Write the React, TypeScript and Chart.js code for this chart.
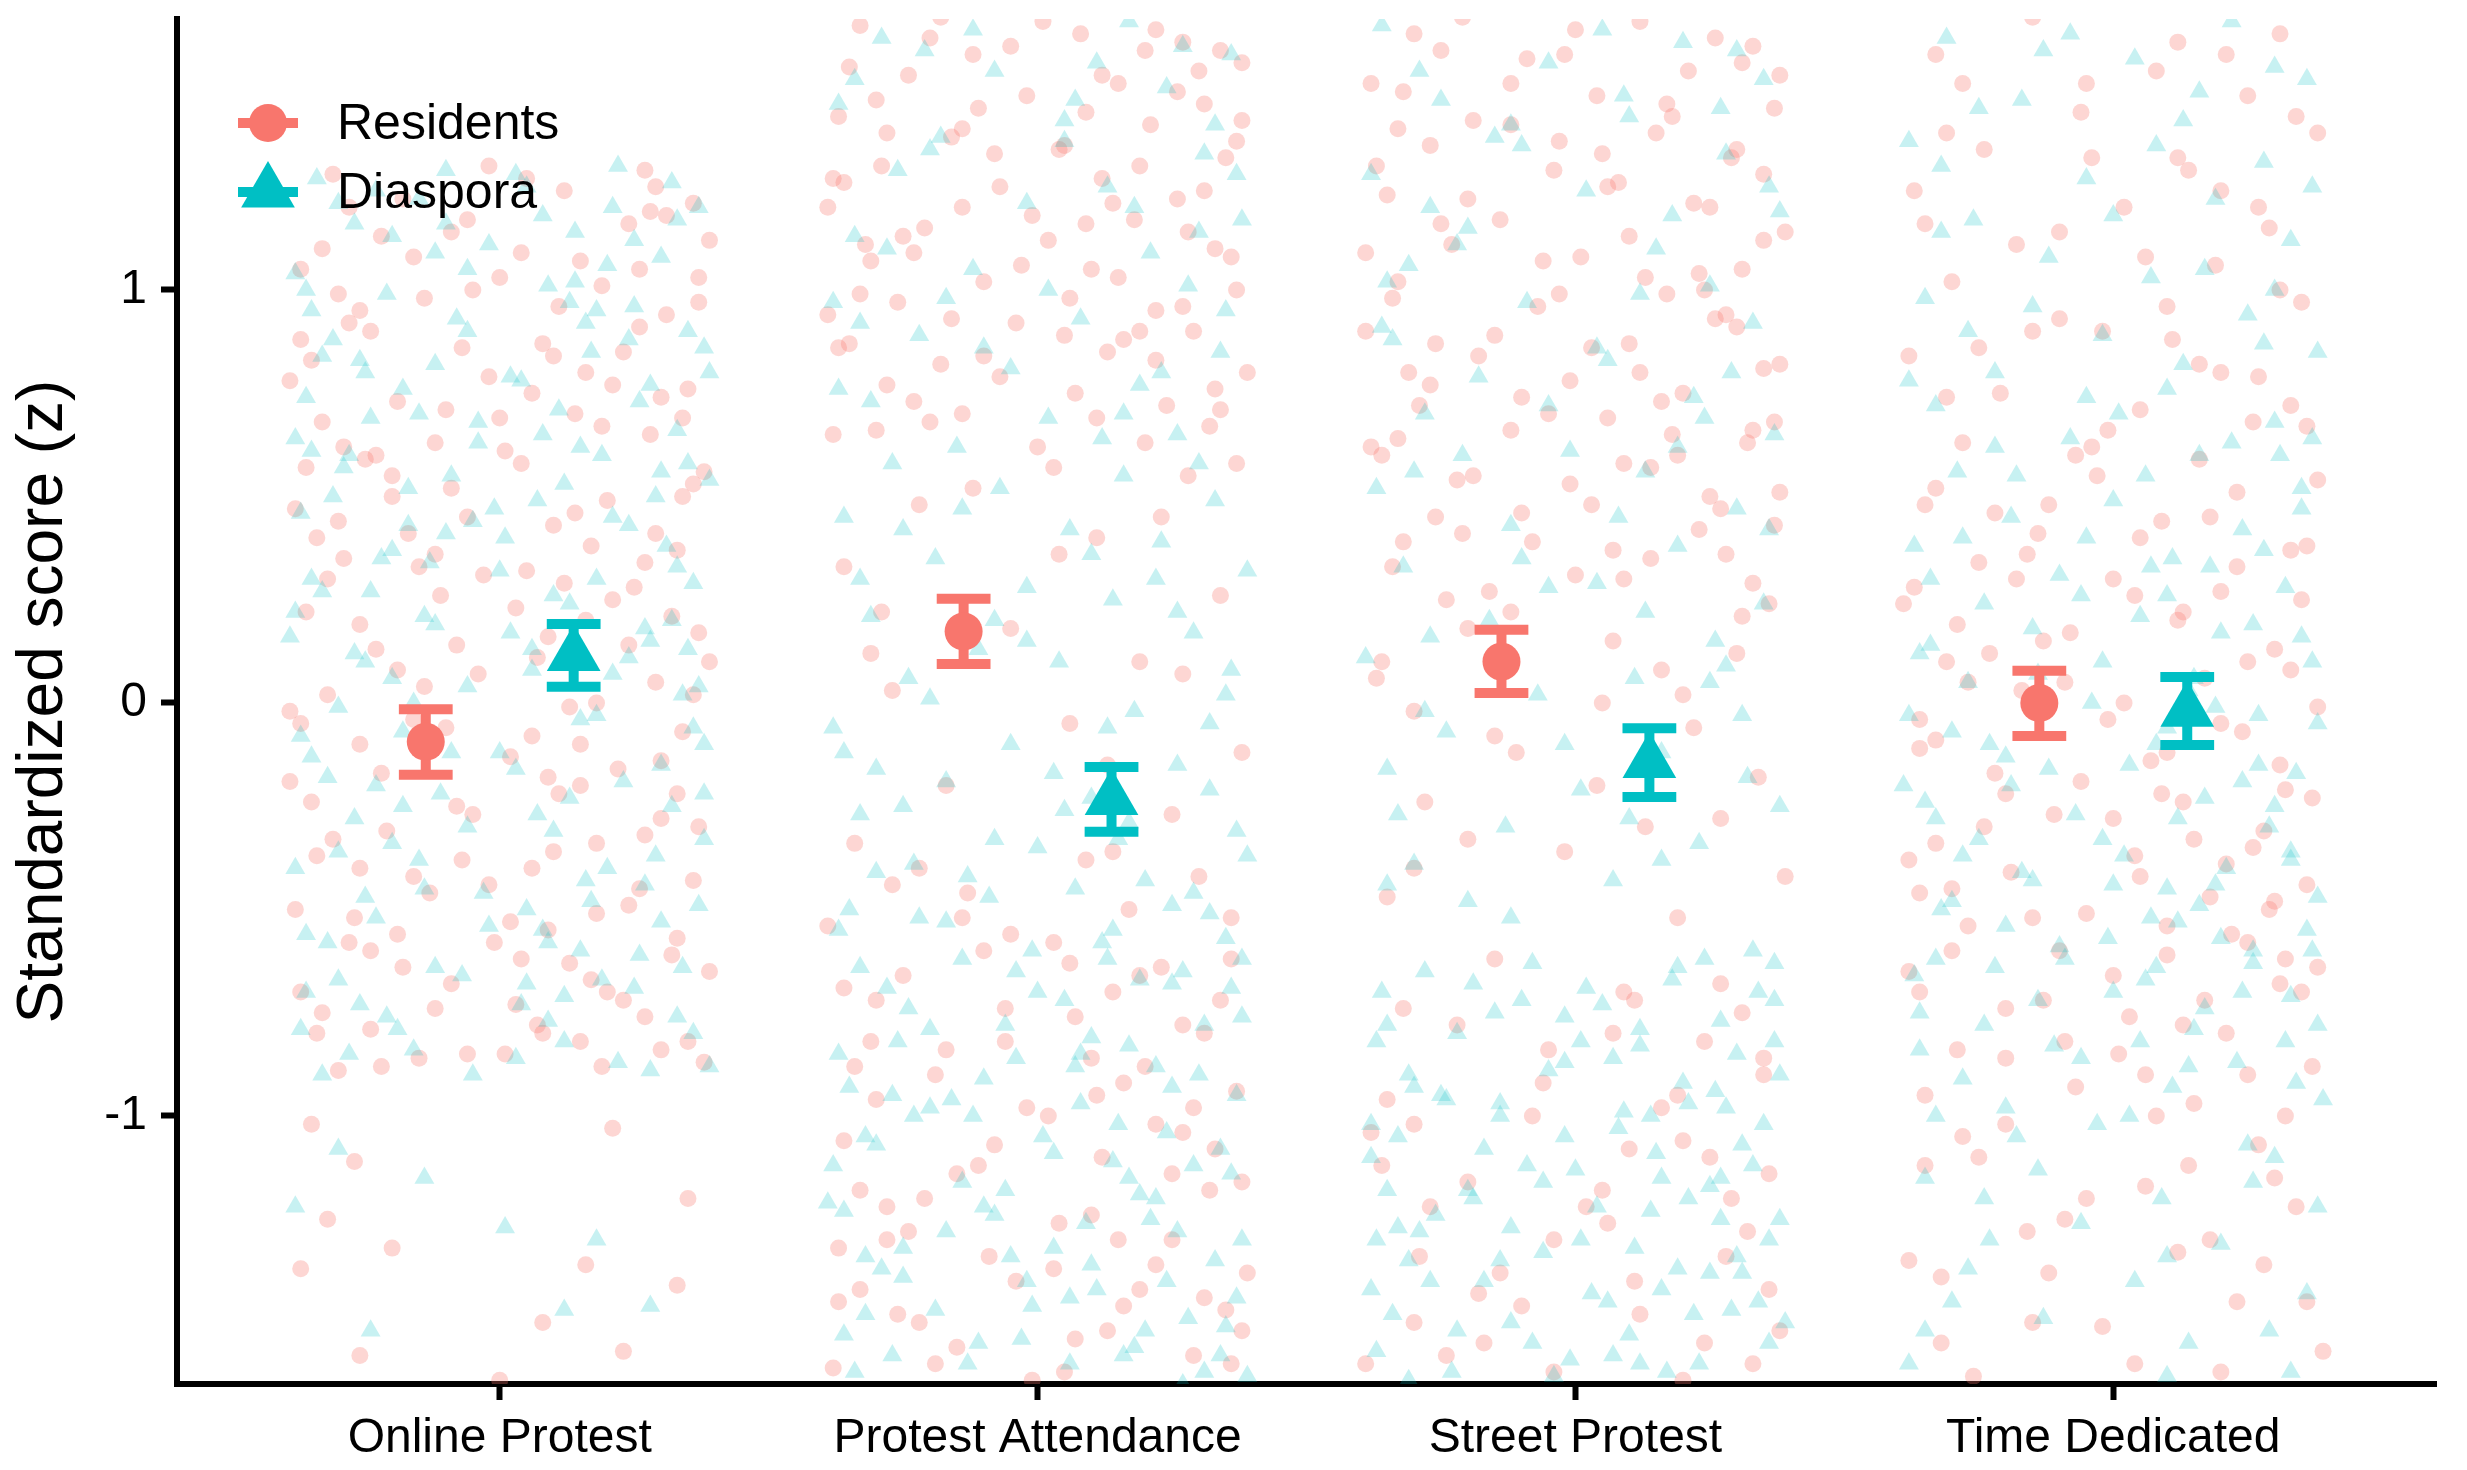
import { useEffect, useRef } from "react"
import { Chart, registerables } from "chart.js"

Chart.register(...registerables)

const categories = ["Online Protest", "Protest Attendance", "Street Protest", "Time Dedicated"]
const groups = ["Residents", "Diaspora"]
const yTicks = [-1, 0, 1]

// group means and 95% intervals, one value per category
const residentsMean = [-0.094, 0.173, 0.1, 0.0]
const residentsLow = [-0.174, 0.094, 0.024, -0.08]
const residentsHigh = [-0.015, 0.252, 0.177, 0.078]
const diasporaMean = [0.115, -0.234, -0.144, -0.02]
const diasporaLow = [0.039, -0.312, -0.228, -0.102]
const diasporaHigh = [0.191, -0.155, -0.061, 0.063]

// jittered raw scores: [horizontal jitter, z]
const onlineResidents = [
  [-0.31, 1.28], [0.12, 1.24], [0.36, 1.21], [-0.06, 1.17], [0.27, 1.29], [-0.22, 1.13], [0.04, 1.09], [0.39, 1.12], [-0.37, 1.05], [0.19, 1.01],
  [-0.14, 0.98], [0.31, 0.94], [-0.28, 0.92], [0.08, 0.87], [0.23, 0.85], [-0.35, 0.83], [-0.02, 0.79], [0.35, 0.76], [-0.19, 0.73], [0.14, 0.7],
  [-0.33, 0.68], [0.28, 0.65], [0.01, 0.61], [-0.25, 0.59], [0.38, 0.56], [-0.09, 0.52], [0.2, 0.49], [-0.38, 0.47], [0.1, 0.43], [-0.17, 0.41],
  [0.33, 0.37], [-0.29, 0.35], [0.05, 0.32], [0.25, 0.28], [-0.11, 0.26], [-0.36, 0.22], [0.16, 0.2], [0.37, 0.17], [-0.23, 0.13], [0.07, 0.11],
  [-0.04, 0.07], [0.29, 0.05], [-0.32, 0.02], [0.13, -0.01], [-0.16, -0.04], [0.34, -0.07], [-0.26, -0.1], [0.02, -0.13], [0.22, -0.16], [-0.39, -0.19],
  [0.11, -0.22], [-0.08, -0.25], [0.3, -0.28], [-0.21, -0.31], [0.18, -0.34], [-0.34, -0.37], [0.06, -0.4], [0.36, -0.43], [-0.13, -0.46], [0.24, -0.49],
  [-0.27, -0.52], [0.09, -0.55], [-0.01, -0.58], [0.32, -0.61], [-0.18, -0.64], [0.17, -0.67], [-0.37, -0.7], [0.03, -0.73], [0.27, -0.76], [-0.24, -0.79],
  [0.15, -0.82], [-0.06, -0.85], [0.38, -0.87], [-0.3, -0.89], [0.0, 1.03], [-0.12, 0.63], [0.26, 0.91], [-0.3, 0.44], [0.12, 0.29], [-0.2, 0.55],
  [0.34, 0.69], [-0.07, -0.38], [0.2, -0.7], [-0.34, -0.8], [0.31, 1.18], [-0.26, 0.95],
  [0.05, 1.27], [-0.18, 1.22], [0.24, 1.16], [-0.33, 1.1], [0.15, 1.07], [-0.05, 1.0], [0.37, 0.97], [-0.24, 0.9], [0.1, 0.84], [-0.39, 0.78],
  [0.3, 0.74], [-0.1, 0.71], [0.19, 0.67], [-0.29, 0.62], [0.04, 0.58], [0.36, 0.53], [-0.2, 0.5], [0.14, 0.46], [-0.34, 0.4], [0.27, 0.34],
  [-0.03, 0.31], [0.21, 0.25], [-0.26, 0.19], [0.09, 0.16], [0.39, 0.1], [-0.14, 0.04], [0.18, 0.0], [-0.37, -0.05], [0.06, -0.08], [0.3, -0.14],
  [-0.22, -0.17], [0.15, -0.2], [-0.05, -0.27], [0.37, -0.3], [-0.31, -0.33], [0.1, -0.36], [-0.16, -0.42], [0.26, -0.45], [-0.38, -0.5], [0.02, -0.53],
  [0.33, -0.57], [-0.24, -0.6], [0.13, -0.63], [-0.09, -0.68], [0.23, -0.72], [-0.33, -0.75], [0.07, -0.78], [0.35, -0.82], [-0.15, -0.86], [0.19, -0.88],
  [-0.28, 1.2], [0.16, 0.8], [-0.36, 0.57], [0.29, 0.41], [-0.08, 0.14], [0.33, -0.22], [-0.19, -0.56], [0.01, -0.85], [0.26, 1.05], [-0.12, 0.36],
  [-0.02, 1.3], [0.28, 1.19], [-0.16, 1.08], [0.11, 0.96], [-0.37, 0.88], [0.21, 0.77], [0.0, 0.69], [-0.23, 0.6], [0.34, 0.5], [-0.06, 0.45],
  [0.17, 0.38], [-0.32, 0.3], [0.03, 0.23], [0.24, 0.14], [-0.19, 0.08], [0.36, 0.02], [-0.1, -0.06], [0.09, -0.18], [-0.35, -0.24], [0.27, -0.32],
  [-0.02, -0.44], [0.18, -0.51], [-0.28, -0.58], [0.39, -0.65], [-0.12, -0.74], [0.08, -0.8], [-0.22, -0.88], [0.29, 1.25], [-0.09, 1.14], [0.37, 1.03],
  [-0.3, 0.99], [0.06, 0.75], [-0.15, 0.33], [0.32, 0.21], [-0.39, -0.02], [0.15, -0.1], [-0.26, -0.4], [0.04, -0.62], [0.3, -0.84], [-0.07, 0.86],
  [-0.35, -1.02], [0.21, -1.03], [-0.27, -1.11], [0.35, -1.2], [-0.32, -1.25], [-0.2, -1.32], [0.16, -1.36], [-0.37, -1.37], [0.33, -1.41],
  [0.08, -1.5], [-0.26, -1.58], [0.23, -1.57], [0.0, -1.64],
]
const onlineDiaspora = [
  [0.22, 1.3], [-0.34, 1.27], [0.05, 1.25], [-0.15, 1.22], [0.37, 1.2], [-0.27, 1.16], [0.14, 1.14], [-0.02, 1.11], [0.3, 1.08], [-0.38, 1.04],
  [0.09, 1.01], [-0.21, 0.99], [0.25, 0.96], [-0.08, 0.93], [0.35, 0.9], [-0.31, 0.88], [0.17, 0.85], [-0.12, 0.82], [0.02, 0.79], [0.28, 0.77],
  [-0.36, 0.74], [0.11, 0.71], [-0.24, 0.69], [0.33, 0.66], [-0.04, 0.63], [0.19, 0.6], [-0.29, 0.57], [0.39, 0.54], [-0.17, 0.52], [0.07, 0.49],
  [-0.37, 0.46], [0.24, 0.43], [-0.1, 0.41], [0.31, 0.38], [-0.22, 0.35], [0.0, 0.32], [0.36, 0.29], [-0.33, 0.27], [0.13, 0.24], [-0.14, 0.21],
  [0.27, 0.18], [-0.39, 0.16], [0.06, 0.13], [-0.25, 0.1], [0.21, 0.07], [-0.06, 0.04], [0.34, 0.02], [-0.3, -0.01], [0.15, -0.04], [-0.18, -0.07],
  [0.38, -0.1], [-0.35, -0.13], [0.03, -0.16], [0.23, -0.19], [-0.11, -0.22], [0.32, -0.25], [-0.27, -0.28], [0.1, -0.31], [-0.2, -0.34], [0.29, -0.37],
  [-0.38, -0.4], [0.16, -0.43], [-0.03, -0.46], [0.37, -0.49], [-0.23, -0.52], [0.08, -0.55], [-0.32, -0.58], [0.26, -0.61], [-0.12, -0.64], [0.19, -0.67],
  [-0.36, -0.7], [0.04, -0.73], [0.33, -0.76], [-0.19, -0.79], [0.12, -0.82], [-0.28, -0.85], [0.39, -0.88], [-0.05, -0.9], [0.18, 0.95], [-0.13, 0.34],
  [0.3, 0.56], [-0.25, 0.8], [0.09, -0.58], [-0.35, 0.61], [0.25, 1.12], [-0.18, -0.25], [0.35, 0.13], [-0.01, 0.47],
  [-0.1, 1.29], [0.32, 1.26], [-0.3, 1.21], [0.08, 1.18], [-0.2, 1.13], [0.2, 1.06], [-0.36, 1.0], [0.13, 0.97], [-0.06, 0.9], [0.38, 0.86],
  [-0.26, 0.83], [0.04, 0.78], [0.26, 0.73], [-0.15, 0.7], [-0.38, 0.64], [0.15, 0.62], [0.35, 0.58], [-0.09, 0.55], [-0.31, 0.5], [0.21, 0.45],
  [0.01, 0.4], [-0.2, 0.37], [0.33, 0.33], [-0.35, 0.3], [0.1, 0.26], [-0.12, 0.19], [0.28, 0.15], [-0.27, 0.12], [0.06, 0.08], [0.37, 0.04],
  [-0.16, 0.0], [0.18, -0.03], [-0.37, -0.08], [0.0, -0.12], [0.3, -0.15], [-0.23, -0.2], [0.13, -0.23], [-0.06, -0.3], [0.38, -0.33], [-0.3, -0.36],
  [0.2, -0.4], [-0.14, -0.45], [0.05, -0.5], [0.3, -0.53], [-0.36, -0.56], [0.15, -0.6], [-0.07, -0.66], [0.25, -0.69], [-0.26, -0.73], [0.09, -0.77],
  [0.36, -0.8], [-0.16, -0.84], [0.22, -0.87], [-0.33, -0.9], [0.14, 1.02], [-0.04, 0.68], [0.32, 0.2], [-0.25, -0.47], [0.05, -0.68], [-0.1, 1.16],
  [0.03, 1.28], [-0.23, 1.24], [0.33, 1.17], [-0.06, 1.05], [0.16, 0.92], [-0.33, 0.84], [0.39, 0.8], [-0.18, 0.76], [0.08, 0.65], [-0.28, 0.6],
  [0.29, 0.5], [-0.05, 0.44], [0.18, 0.3], [-0.38, 0.22], [0.02, 0.17], [0.24, 0.11], [-0.2, 0.06], [0.36, -0.06], [-0.32, -0.18], [0.07, -0.27],
  [-0.15, -0.38], [0.27, -0.44], [-0.02, -0.54], [0.34, -0.64], [-0.3, -0.67], [0.12, -0.71], [-0.21, -0.76], [0.03, -0.86], [0.28, -0.89], [-0.12, 1.09],
  [0.21, 1.2], [-0.35, 0.95], [0.12, 0.53], [-0.24, 0.27], [0.38, -0.22], [-0.09, -0.12], [0.17, -0.48], [-0.37, -0.79], [0.24, 0.88], [-0.17, 0.43],
  [-0.3, -1.08], [-0.14, -1.15], [0.01, -1.27], [-0.38, -1.22], [0.18, -1.3], [0.12, -1.47], [0.28, -1.46], [-0.24, -1.52],
]
const attendResidents = [
  [-0.33, 1.64], [0.08, 1.62], [0.27, 1.6], [-0.12, 1.57], [0.38, 1.55], [-0.24, 1.52], [0.15, 1.5], [-0.02, 1.47], [0.31, 1.45], [-0.37, 1.42],
  [0.21, 1.4], [-0.16, 1.37], [0.05, 1.35], [0.35, 1.32], [-0.29, 1.3], [0.12, 1.27], [-0.07, 1.25], [0.26, 1.22], [-0.39, 1.2], [0.18, 1.17],
  [-0.21, 1.15], [0.02, 1.12], [0.33, 1.1], [-0.31, 1.07], [0.1, 1.05], [-0.1, 1.02], [0.37, 1.0], [-0.26, 0.97], [0.22, 0.95], [-0.04, 0.92],
  [0.29, 0.9], [-0.35, 0.87], [0.13, 0.85], [-0.18, 0.82], [0.39, 0.8], [-0.28, 0.77], [0.07, 0.75], [0.24, 0.72], [-0.14, 0.7], [0.32, 0.67],
  [-0.38, 0.65], [0.0, 0.62], [0.2, 1.58], [-0.08, 1.33], [0.16, 0.88], [-0.32, 1.11],
  [0.01, 1.65], [-0.2, 1.61], [0.34, 1.58], [-0.35, 1.54], [0.12, 1.52], [0.26, 1.48], [-0.11, 1.44], [0.38, 1.41], [-0.28, 1.38], [0.04, 1.34],
  [0.19, 1.3], [-0.38, 1.27], [0.31, 1.24], [-0.14, 1.2], [0.09, 1.16], [-0.25, 1.13], [0.36, 1.08], [-0.03, 1.06], [0.15, 1.03], [-0.33, 0.99],
  [0.27, 0.96], [-0.16, 0.93], [0.05, 0.89], [-0.37, 0.86], [0.22, 0.83], [-0.07, 0.79], [0.33, 0.76], [-0.23, 0.73], [0.11, 0.69], [-0.3, 0.66],
  [0.2, 0.63], [0.37, 0.58],
  [-0.18, 1.66], [0.22, 1.63], [-0.05, 1.59], [0.3, 1.53], [-0.3, 1.46], [0.09, 1.43], [-0.14, 1.39], [0.37, 1.36], [-0.36, 1.26], [0.14, 1.21],
  [-0.01, 1.18], [0.28, 1.14], [-0.23, 1.09], [0.06, 0.98], [-0.39, 0.94], [0.19, 0.9], [-0.1, 0.84], [0.34, 0.71], [-0.2, 0.68], [0.03, 0.57],
  [0.28, 0.55], [-0.22, 0.48], [0.11, 0.4], [-0.36, 0.33], [0.34, 0.26], [-0.05, 0.18], [0.19, 0.1], [-0.27, 0.03], [0.06, -0.05], [0.38, -0.12],
  [-0.17, -0.2], [0.25, -0.27], [-0.12, 0.52], [0.04, 0.36], [-0.31, 0.12], [0.27, 0.07], [0.23, 0.45], [-0.29, 0.22], [0.13, -0.15],
  [-0.34, -0.34], [0.09, -0.38], [0.3, -0.42], [-0.13, -0.46], [0.17, -0.5], [-0.39, -0.54], [0.03, -0.58], [0.36, -0.62], [-0.25, -0.66], [0.14, -0.7],
  [-0.06, -0.74], [0.27, -0.78], [-0.31, -0.82], [0.1, -0.86], [-0.19, -0.9], [0.37, -0.94], [-0.02, -0.98], [0.22, -1.02], [-0.36, -1.06], [0.12, -1.1],
  [-0.15, -1.14], [0.32, -1.18], [-0.28, -1.22], [0.04, -1.26], [0.25, -1.3], [-0.09, -1.34], [0.39, -1.38], [-0.33, -1.42], [0.16, -1.46], [-0.22, -1.5],
  [0.07, -1.54], [0.29, -1.58], [-0.38, -1.61], [-0.01, -1.64], [0.2, -0.88], [-0.24, -1.28], [0.35, -1.47], [-0.1, -0.6], [0.33, -1.08], [-0.3, -0.72],
  [0.14, -0.36], [-0.27, -0.44], [0.36, -0.52], [-0.05, -0.56], [0.23, -0.64], [-0.36, -0.69], [0.07, -0.76], [0.31, -0.8], [-0.17, -0.84], [0.16, -0.92],
  [-0.3, -0.96], [0.02, -1.0], [0.27, -1.04], [-0.11, -1.12], [0.38, -1.16], [-0.21, -1.2], [0.1, -1.24], [-0.37, -1.32], [0.22, -1.36], [-0.04, -1.4],
  [0.31, -1.44], [-0.26, -1.48], [0.13, -1.52], [-0.15, -1.56], [0.36, -1.6], [0.05, -1.62], [-0.33, -1.18], [0.19, -0.66],
  [-0.22, -0.4], [0.06, -0.63], [0.34, -0.72], [-0.34, -0.88], [0.11, -0.95], [-0.08, -1.07], [0.25, -1.14], [-0.28, -1.3], [0.03, -1.37], [0.19, -1.42],
  [-0.19, -1.6], [0.38, -1.52], [-0.06, -0.82], [0.29, -0.98], [-0.37, -1.45], [0.15, -1.3], [-0.14, -0.52],
]
const attendDiaspora = [
  [0.17, 1.65], [-0.29, 1.61], [0.36, 1.57], [-0.08, 1.53], [0.24, 1.49], [-0.37, 1.45], [0.05, 1.41], [-0.18, 1.37], [0.31, 1.33], [-0.26, 1.29],
  [0.13, 1.25], [-0.02, 1.21], [0.38, 1.17], [-0.34, 1.13], [0.21, 1.09], [-0.12, 1.05], [0.28, 1.01], [-0.38, 0.97], [0.08, 0.93], [-0.22, 0.89],
  [0.34, 0.85], [-0.05, 0.81], [0.19, 0.77], [-0.31, 0.73], [0.02, 0.69], [0.26, 0.65], [-0.15, 0.62], [0.11, 1.55], [-0.33, 0.92], [0.37, 1.28],
  [-0.12, 1.63], [0.27, 1.59], [-0.34, 1.51], [0.07, 1.46], [0.33, 1.4], [-0.2, 1.34], [0.18, 1.2], [-0.28, 1.1], [0.02, 1.0], [0.35, 0.95],
  [-0.1, 0.86], [0.23, 0.8], [-0.37, 0.76], [0.12, 0.64], [-0.21, 1.58], [0.05, 1.36], [0.3, 1.14], [-0.17, 0.98], [0.16, 0.7],
  [-0.27, 0.58], [0.16, 0.55], [-0.07, 0.52], [0.33, 0.49], [-0.36, 0.45], [0.06, 0.42], [0.23, 0.39], [-0.19, 0.35], [0.39, 0.32], [-0.02, 0.28],
  [0.14, 0.25], [-0.31, 0.21], [0.29, 0.17], [-0.11, 0.13], [0.04, 0.1], [-0.24, 0.06], [0.35, 0.02], [0.18, -0.02], [-0.38, -0.06], [-0.05, -0.1],
  [0.3, 0.58], [-0.14, 0.47], [0.1, 0.36], [-0.33, 0.3], [0.26, 0.22], [-0.02, 0.15], [0.36, 0.08], [-0.2, 0.01], [0.13, -0.06], [-0.36, -0.12],
  [-0.25, 0.42], [0.22, 0.3], [-0.08, 0.2], [0.32, -0.05], [-0.3, -0.16],
  [0.26, -0.15], [-0.17, -0.19], [0.1, -0.23], [-0.33, -0.27], [0.37, -0.31], [0.0, -0.35], [-0.23, -0.39], [0.2, -0.43], [-0.09, -0.47], [0.32, -0.51],
  [-0.37, -0.55], [0.12, -0.58], [-0.14, -0.62], [0.27, -0.65], [-0.28, -0.69], [0.05, -0.72], [0.38, -0.76], [-0.2, -0.79], [0.17, -0.83], [-0.04, -0.86],
  [0.3, -0.9], [-0.35, -0.93], [0.08, -0.97], [-0.12, -1.0], [0.24, -1.04], [-0.3, -1.07], [0.14, -1.11], [0.36, -1.14], [-0.06, -1.18], [-0.39, -1.21],
  [0.21, -1.25], [-0.17, -1.28], [0.03, -1.32], [0.33, -1.35], [-0.25, -1.39], [0.11, -1.42], [-0.01, -1.46], [0.28, -1.49], [-0.36, -1.53], [0.18, -1.56],
  [-0.13, -1.6], [0.39, -1.63], [-0.22, -0.52], [0.07, -0.88], [-0.32, -1.34], [0.25, -0.68], [-0.08, -1.24], [0.34, -1.58], [-0.27, -0.95], [0.15, -0.33],
  [0.03, -0.17], [0.32, -0.21], [-0.25, -0.25], [0.17, -0.29], [-0.08, -0.33], [0.39, -0.37], [-0.3, -0.41], [0.07, -0.45], [0.25, -0.49], [-0.17, -0.53],
  [0.35, -0.57], [-0.01, -0.6], [-0.33, -0.64], [0.19, -0.67], [0.0, -0.7], [-0.24, -0.74], [0.31, -0.78], [0.1, -0.81], [-0.37, -0.85], [0.22, -0.88],
  [-0.1, -0.91], [0.37, -0.95], [-0.2, -0.98], [0.15, -1.02], [-0.32, -1.05], [0.03, -1.09], [0.29, -1.12], [-0.14, -1.16], [0.19, -1.19], [-0.36, -1.23],
  [0.09, -1.26], [0.38, -1.3], [-0.05, -1.34], [-0.29, -1.37], [0.24, -1.4], [0.06, -1.44], [-0.19, -1.47], [0.35, -1.51], [-0.03, -1.54], [0.16, -1.58],
  [-0.34, -1.62], [0.27, -1.65], [-0.23, -1.0], [0.13, -0.62],
  [0.05, -0.26], [-0.13, -0.42], [0.29, -0.46], [-0.35, -0.5], [0.14, -0.55], [-0.04, -0.65], [0.36, -0.69], [-0.26, -0.82], [0.08, -0.85], [0.25, -0.93],
  [-0.16, -0.96], [0.01, -1.05], [0.34, -1.08], [-0.38, -1.12], [0.17, -1.15], [-0.1, -1.22], [0.26, -1.28], [-0.25, -1.32], [0.1, -1.36], [-0.02, -1.4],
  [0.37, -1.44], [-0.32, -1.48], [0.2, -1.52], [-0.11, -1.55], [0.06, -1.6], [0.31, -1.62], [-0.27, -1.58], [0.38, -0.62], [-0.06, -0.78], [0.22, -1.2],
]
const streetResidents = [
  [0.12, 1.65], [-0.3, 1.62], [0.33, 1.59], [-0.09, 1.56], [0.21, 1.53], [-0.38, 1.5], [0.04, 1.47], [0.37, 1.44], [-0.19, 1.41], [0.15, 1.38],
  [-0.27, 1.35], [0.29, 1.32], [-0.04, 1.29], [0.08, 1.26], [-0.35, 1.23], [0.25, 1.2], [-0.14, 1.17], [0.39, 1.14], [-0.23, 1.11], [0.01, 1.08],
  [0.31, 1.05], [-0.33, 1.02], [0.17, 0.99], [-0.07, 0.96], [0.26, 0.93], [-0.39, 0.9], [0.1, 0.87], [-0.18, 0.84], [0.35, 0.81], [-0.01, 0.78],
  [0.2, 0.75], [-0.29, 0.72], [0.06, 0.69], [-0.12, 0.66], [0.32, 0.63], [-0.36, 0.6], [0.14, 0.57], [-0.22, 0.54], [0.38, 0.51], [0.03, 0.48],
  [-0.26, 0.45], [0.23, 0.42], [-0.08, 0.39], [0.28, 0.36], [-0.34, 0.33], [0.09, 0.3], [-0.16, 0.27], [0.36, 0.24], [-0.03, 1.36], [0.24, 1.0],
  [-0.31, 0.8], [0.18, 0.65],
  [-0.21, 1.66], [0.26, 1.61], [-0.02, 1.57], [0.38, 1.52], [-0.32, 1.48], [0.17, 1.45], [-0.12, 1.4], [0.3, 1.34], [-0.37, 1.3], [0.06, 1.25],
  [0.22, 1.21], [-0.25, 1.16], [0.35, 1.12], [-0.06, 1.07], [0.13, 1.03], [-0.34, 0.98], [0.28, 0.94], [-0.15, 0.89], [0.03, 0.86], [0.38, 0.82],
  [-0.27, 0.77], [0.16, 0.73], [-0.05, 0.7], [0.33, 0.66], [-0.38, 0.62], [0.09, 0.58], [-0.19, 0.55], [0.25, 0.5], [-0.1, 0.46], [0.37, 0.43],
  [-0.32, 0.39], [0.14, 0.35], [0.0, 0.31], [-0.24, 0.25], [0.31, 0.21], [0.07, 0.15],
  [0.0, 1.63], [-0.25, 1.58], [0.31, 1.55], [-0.12, 1.5], [0.18, 1.42], [-0.33, 1.39], [0.05, 1.33], [0.35, 1.28], [-0.2, 1.22], [0.1, 1.13],
  [-0.39, 1.09], [0.23, 1.04], [-0.03, 0.99], [0.3, 0.91], [-0.26, 0.87], [0.12, 0.8], [-0.1, 0.74], [0.37, 0.68], [-0.33, 0.64], [0.19, 0.6],
  [-0.01, 0.53], [0.27, 0.47], [-0.21, 0.41], [0.07, 0.37], [0.33, 0.29], [-0.12, 0.22],
  [-0.2, 0.18], [0.3, 0.12], [-0.37, 0.06], [0.05, 0.0], [0.22, -0.06], [-0.11, -0.12], [0.34, -0.18], [-0.28, -0.24], [0.13, -0.3], [-0.02, -0.36],
  [0.39, -0.42], [-0.35, -0.47], [0.19, -0.52], [-0.36, 0.1], [0.2, 0.02], [-0.15, -0.08], [0.27, -0.28], [-0.3, -0.4], [0.16, 0.08], [-0.3, -0.02],
  [0.04, -0.2], [-0.2, -0.33],
  [-0.15, -0.62], [0.27, -0.68], [-0.32, -0.74], [0.07, -0.8], [0.35, -0.86], [-0.06, -0.92], [0.16, -0.98], [-0.38, -1.04], [0.25, -1.1], [-0.2, -1.16],
  [0.02, -1.22], [0.32, -1.28], [-0.29, -1.34], [0.11, -1.4], [-0.1, -1.46], [0.38, -1.52], [-0.24, -1.58], [0.2, -1.64], [-0.35, -0.96], [0.29, -1.2],
  [-0.04, -1.3], [0.09, -0.7], [-0.17, -1.55], [0.36, -1.42],
  [0.11, -0.72], [-0.22, -0.78], [0.35, -0.9], [-0.08, -1.0], [0.2, -1.06], [-0.36, -1.12], [0.05, -1.18], [0.28, -1.34], [-0.14, -1.38], [0.12, -1.48],
  [-0.3, -1.5], [0.33, -1.6], [-0.04, -1.62], [0.24, -0.82], [-0.27, -1.22], [0.31, -0.75], [-0.05, -0.84], [0.19, -0.95], [-0.3, -1.02], [0.06, -1.26],
  [0.36, -1.14], [-0.18, -1.43], [0.24, -1.55], [-0.39, -1.6], [0.1, -1.08],
]
const streetDiaspora = [
  [-0.36, 1.64], [0.2, 1.6], [-0.05, 1.55], [0.35, 1.51], [-0.25, 1.46], [0.1, 1.42], [-0.15, 1.37], [0.28, 1.33], [-0.38, 1.28], [0.02, 1.24],
  [0.38, 1.19], [-0.2, 1.15], [0.15, 1.1], [-0.31, 1.06], [0.25, 1.01], [-0.09, 0.97], [0.33, 0.92], [-0.34, 0.88], [0.06, 0.83], [-0.18, 0.79],
  [0.22, 0.74], [-0.28, 0.7], [0.37, 0.65], [-0.01, 0.61], [0.13, 0.56], [-0.37, 0.52], [0.3, 0.47], [-0.12, 0.43], [0.09, 1.47], [-0.27, 1.2],
  [0.05, 1.63], [-0.29, 1.53], [0.27, 1.44], [-0.1, 1.35], [0.36, 1.25], [-0.22, 1.11], [0.12, 0.99], [-0.36, 0.91], [0.29, 0.8], [-0.05, 0.72],
  [0.19, 0.62], [-0.3, 0.56], [0.36, 0.42], [0.3, 1.58], [-0.12, 1.4], [0.18, 1.18], [-0.35, 1.02], [0.04, 0.86], [0.24, 0.69], [-0.21, 0.6],
  [0.08, 0.45],
  [0.19, 0.38], [-0.32, 0.33], [0.04, 0.29], [0.35, 0.24], [-0.16, 0.2], [0.26, 0.15], [-0.39, 0.11], [0.11, 0.06], [-0.07, 0.02], [0.31, -0.03],
  [-0.24, -0.07], [0.16, -0.12], [-0.35, -0.16], [0.01, -0.21], [0.38, -0.25], [-0.13, -0.3], [0.23, -0.34], [-0.3, -0.39], [0.07, -0.43], [-0.2, -0.48],
  [-0.1, 0.35], [0.13, 0.22], [-0.27, 0.16], [0.25, 0.05], [-0.02, -0.1], [0.32, -0.18], [-0.33, -0.27], [0.16, -0.38], [-0.12, -0.52],
  [-0.05, 0.28], [0.28, 0.09], [-0.28, -0.02], [0.1, -0.28], [-0.35, -0.44],
  [0.33, -0.6], [-0.08, -0.63], [0.18, -0.67], [-0.36, -0.7], [0.05, -0.73], [0.27, -0.77], [-0.22, -0.8], [0.12, -0.83], [-0.02, -0.87], [0.38, -0.9],
  [-0.3, -0.93], [0.21, -0.97], [-0.14, -1.0], [0.08, -1.03], [0.31, -1.07], [-0.38, -1.1], [0.0, -1.13], [0.25, -1.17], [-0.19, -1.2], [0.14, -1.23],
  [-0.33, -1.27], [0.36, -1.3], [-0.06, -1.33], [0.19, -1.37], [-0.27, -1.4], [0.03, -1.43], [0.29, -1.47], [-0.12, -1.5], [0.1, -1.53], [-0.37, -1.57],
  [0.23, -1.6], [-0.04, -1.63], [0.34, -1.45], [-0.25, -0.95], [0.16, -1.15], [-0.1, -0.72], [0.37, -0.82], [-0.31, -1.35], [0.07, -1.58], [-0.17, -1.08],
  [0.27, -1.25], [-0.35, -0.78],
  [0.24, -0.62], [-0.28, -0.65], [0.02, -0.69], [0.37, -0.72], [-0.15, -0.75], [0.12, -0.79], [-0.37, -0.82], [0.3, -0.85], [-0.05, -0.89], [0.2, -0.92],
  [-0.24, -0.96], [0.09, -0.99], [0.35, -1.02], [-0.33, -1.05], [0.15, -1.09], [-0.09, -1.12], [0.27, -1.15], [-0.2, -1.18], [0.04, -1.22], [0.38, -1.25],
  [-0.29, -1.28], [0.11, -1.32], [-0.14, -1.35], [0.31, -1.38], [-0.38, -1.42], [0.06, -1.45], [0.22, -1.48], [-0.22, -1.52], [0.36, -1.55], [-0.01, -1.59],
  [0.17, -1.62], [-0.31, -1.64], [0.28, -0.98], [-0.12, -1.27], [0.01, -0.82], [-0.35, -1.18],
  [0.19, -0.64], [-0.19, -0.68], [0.34, -0.7], [-0.02, -0.76], [0.07, -0.86], [-0.31, -0.9], [0.26, -0.94], [-0.14, -0.97], [0.14, -1.0], [-0.38, -1.02],
  [0.33, -1.12], [-0.06, -1.16], [0.21, -1.2], [-0.26, -1.24], [0.01, -1.3], [0.3, -1.34], [-0.17, -1.4], [0.16, -1.42], [-0.34, -1.48], [0.39, -1.5],
  [-0.08, -1.55], [0.12, -1.6], [-0.23, -1.62], [0.25, -1.38], [-0.02, -1.05], [0.37, -0.63], [-0.37, -1.3],
]
const timeResidents = [
  [-0.15, 1.66], [0.31, 1.62], [-0.33, 1.57], [0.08, 1.53], [0.25, 1.47], [-0.06, 1.43], [0.38, 1.38], [-0.24, 1.34], [0.14, 1.29], [-0.37, 1.24],
  [0.02, 1.2], [0.29, 1.15], [-0.18, 1.11], [0.19, 1.06], [-0.3, 1.02], [0.35, 0.97], [-0.1, 0.93], [0.11, 0.88], [-0.38, 0.84], [0.27, 0.79],
  [-0.21, 0.75], [0.05, 0.71], [0.36, 0.67], [-0.28, 0.63], [0.16, 0.59], [-0.03, 0.55], [0.23, 0.51], [-0.35, 0.48], [0.09, 0.44], [-0.14, 0.41],
  [0.33, 0.37], [-0.25, 0.34], [0.0, 0.3], [0.2, 0.27], [-0.39, 0.24], [0.12, 0.2], [-0.08, 0.17], [0.3, 0.13], [-0.31, 0.1], [0.17, 0.06],
  [-0.17, 0.03], [0.38, -0.01], [-0.01, -0.04], [0.24, -0.07], [-0.36, -0.11], [0.07, -0.14], [-0.22, -0.17], [0.32, -0.21], [0.13, -0.24], [-0.11, -0.27],
  [0.28, -0.31], [-0.33, -0.34], [0.04, -0.37], [-0.19, -0.41], [0.36, -0.44], [0.18, -0.47], [-0.05, -0.51], [-0.27, -0.54], [0.25, -0.58], [0.1, -0.61],
  [-0.38, -0.65], [0.31, -0.68], [-0.13, -0.72], [0.03, -0.76], [0.21, -0.8], [-0.29, -0.84], [0.37, -0.88], [-0.07, -0.93], [0.15, -0.97], [-0.2, -1.02],
  [0.27, -1.07], [-0.35, -1.12], [0.06, -1.17], [0.34, -1.22], [-0.16, -1.28], [0.12, -1.33], [-0.32, -1.39], [0.23, -1.45], [-0.02, -1.51], [0.39, -1.57],
  [-0.26, -1.63], [0.09, -0.22], [-0.12, 0.48], [0.29, -0.5], [-0.23, 0.12], [0.01, -0.85], [0.35, 0.25], [-0.36, -0.46], [0.2, 0.8], [-0.09, -1.25],
  [0.12, 1.6], [-0.28, 1.5], [0.34, 1.42], [-0.04, 1.32], [0.2, 1.24], [-0.35, 1.16], [0.06, 1.08], [0.31, 1.0], [-0.15, 0.9], [0.16, 0.82],
  [-0.31, 0.74], [0.26, 0.68], [-0.07, 0.6], [0.38, 0.54], [-0.22, 0.46], [0.05, 0.4], [0.23, 0.33], [-0.37, 0.28], [0.13, 0.22], [-0.13, 0.15],
  [0.33, 0.08], [-0.27, 0.05], [0.02, 0.0], [0.2, -0.05], [-0.33, -0.09], [0.1, -0.12], [-0.06, -0.19], [0.37, -0.23], [-0.24, -0.3], [0.15, -0.33],
  [-0.38, -0.38], [0.05, -0.42], [0.3, -0.48], [-0.15, -0.52], [0.22, -0.56], [-0.3, -0.6], [0.0, -0.66], [0.35, -0.7], [-0.2, -0.74], [0.13, -0.78],
  [-0.09, -0.82], [0.25, -0.9], [-0.35, -0.95], [0.08, -1.0], [-0.25, -1.1], [0.3, -1.15], [-0.05, -1.2], [0.18, -1.3], [-0.38, -1.35], [0.36, -1.45],
  [-0.15, -1.5], [0.04, -1.6], [0.26, -0.35], [-0.18, 0.3], [0.32, -0.62], [-0.04, 0.62],
  [0.21, 1.57], [-0.05, 1.5], [-0.31, 1.38], [0.27, 1.2], [-0.1, 1.14], [0.1, 0.96], [-0.25, 0.86], [0.33, 0.72], [-0.01, 0.66], [-0.33, 0.52],
  [0.18, 0.45], [0.36, 0.38], [-0.16, 0.36], [0.04, 0.26], [-0.29, 0.19], [0.25, 0.1], [-0.09, 0.05], [0.15, -0.02], [-0.36, -0.04], [0.31, -0.15],
  [-0.2, -0.22], [0.0, -0.28], [0.21, -0.39], [-0.3, -0.45], [0.1, -0.54], [-0.1, -0.6], [0.38, -0.64], [-0.36, -0.7], [0.17, -0.72], [-0.2, -0.86],
  [0.06, -0.9], [0.32, -1.0], [-0.28, -1.05], [0.14, -1.12], [-0.12, -1.38], [0.28, -1.36], [-0.32, -1.55], [0.2, -1.62], [-0.02, 0.9], [0.12, 1.32],
]
const timeDiaspora = [
  [0.22, 1.65], [-0.31, 1.61], [0.04, 1.56], [0.36, 1.51], [-0.17, 1.46], [0.13, 1.41], [-0.38, 1.36], [0.28, 1.31], [-0.05, 1.27], [0.19, 1.22],
  [-0.26, 1.17], [0.33, 1.12], [-0.12, 1.08], [0.07, 1.03], [-0.35, 0.98], [0.25, 0.94], [-0.02, 0.89], [0.38, 0.85], [-0.22, 0.8], [0.1, 0.76],
  [-0.33, 0.72], [0.3, 0.68], [-0.08, 0.64], [0.16, 0.6], [-0.29, 0.56], [0.35, 0.52], [0.0, 0.49], [-0.19, 0.45], [0.24, 0.42], [-0.37, 0.38],
  [0.11, 0.35], [-0.1, 0.31], [0.32, 0.28], [-0.24, 0.24], [0.05, 0.21], [0.2, 0.17], [-0.34, 0.14], [0.37, 0.1], [-0.14, 0.07], [0.14, 0.03],
  [-0.04, 0.0], [0.27, -0.03], [-0.3, -0.07], [0.08, -0.1], [-0.2, -0.13], [0.34, -0.17], [-0.39, -0.2], [0.17, -0.23], [-0.07, -0.27], [0.29, -0.3],
  [-0.25, -0.33], [0.02, -0.37], [0.21, -0.4], [-0.15, -0.43], [0.38, -0.47], [-0.32, -0.5], [0.12, -0.53], [-0.01, -0.57], [0.26, -0.6], [-0.22, -0.64],
  [0.06, -0.67], [0.33, -0.71], [-0.36, -0.75], [0.15, -0.79], [-0.11, -0.83], [0.23, -0.87], [-0.28, -0.91], [0.39, -0.96], [0.03, -1.0], [-0.18, -1.05],
  [0.3, -1.1], [-0.35, -1.15], [0.09, -1.2], [-0.06, -1.26], [0.2, -1.31], [-0.27, -1.37], [0.36, -1.43], [-0.13, -1.49], [0.14, -1.55], [-0.38, -1.6],
  [0.27, -0.15], [-0.27, 0.05], [0.33, -0.38], [-0.09, -0.62], [0.18, 0.33], [-0.33, -0.28], [0.05, -0.82], [0.31, 0.6], [-0.2, -0.98], [0.1, -0.45],
  [-0.08, 1.62], [0.3, 1.54], [-0.25, 1.44], [0.08, 1.35], [0.37, 1.25], [-0.32, 1.14], [0.17, 1.05], [-0.15, 0.96], [0.28, 0.87], [-0.38, 0.78],
  [0.01, 0.7], [0.22, 0.63], [-0.18, 0.55], [0.35, 0.47], [-0.28, 0.4], [0.07, 0.33], [-0.06, 0.26], [0.26, 0.19], [-0.36, 0.12], [0.15, 0.06],
  [-0.13, 0.02], [0.38, -0.05], [-0.23, -0.1], [0.03, -0.15], [0.24, -0.19], [-0.35, -0.24], [0.12, -0.28], [-0.02, -0.33], [0.33, -0.36], [-0.17, -0.41],
  [0.19, -0.44], [-0.3, -0.48], [0.07, -0.52], [0.36, -0.55], [-0.1, -0.59], [0.26, -0.63], [-0.37, -0.66], [0.0, -0.7], [0.17, -0.74], [-0.24, -0.78],
  [0.32, -0.82], [-0.06, -0.86], [0.11, -0.93], [-0.33, -1.0], [0.25, -1.07], [-0.14, -1.13], [0.38, -1.22], [-0.23, -1.3], [0.04, -1.4], [0.29, -1.52],
  [-0.3, -1.45], [0.1, -1.63], [-0.19, -0.2], [0.2, -0.57], [-0.05, 0.4], [0.34, -0.92],
  [-0.13, 1.58], [0.16, 1.48], [-0.32, 1.3], [0.0, 1.18], [0.3, 1.0], [-0.27, 0.9], [0.13, 0.82], [-0.05, 0.74], [0.37, 0.64], [-0.22, 0.62],
  [0.06, 0.55], [0.28, 0.37], [-0.34, 0.3], [0.1, 0.26], [-0.15, 0.18], [0.35, 0.16], [-0.02, 0.1], [0.19, -0.01], [-0.38, -0.03], [0.1, -0.06],
  [-0.12, -0.16], [0.3, -0.25], [-0.28, -0.37], [0.0, -0.44], [0.16, -0.49], [-0.2, -0.54], [0.37, -0.6], [-0.33, -0.62], [0.08, -0.64], [0.24, -0.7],
  [-0.14, -0.72], [0.38, -0.78], [-0.36, -0.84], [0.14, -0.88], [-0.03, -1.02], [0.26, -1.16], [-0.24, -1.2], [0.1, -1.34], [-0.35, -1.52], [0.33, -1.62],
]

const residentsJitter = [onlineResidents, attendResidents, streetResidents, timeResidents]
const diasporaJitter = [onlineDiaspora, attendDiaspora, streetDiaspora, timeDiaspora]

const RED = "#F8766D"
const TEAL = "#00BFC4"
const FONT = "'Liberation Sans', Arial, Helvetica, sans-serif"
const DODGE = 0.1375
const CAP = 0.05

// error bars are drawn right before the mean markers of the same group
const errorBarPlugin = {
  id: "errorBars",
  beforeDatasetDraw(chart: any, args: any) {
    const ds = chart.data.datasets[args.index]
    if (!ds.errLow) return
    const { ctx } = chart
    const x = chart.scales.x
    const y = chart.scales.y
    ctx.save()
    ctx.strokeStyle = ds.backgroundColor
    ctx.lineWidth = 10
    ctx.lineCap = "butt"
    ds.data.forEach((p: any, i: number) => {
      const px = x.getPixelForValue(p.x)
      const left = x.getPixelForValue(p.x - CAP)
      const right = x.getPixelForValue(p.x + CAP)
      const lo = y.getPixelForValue(ds.errLow[i])
      const hi = y.getPixelForValue(ds.errHigh[i])
      ctx.beginPath()
      ctx.moveTo(px, lo)
      ctx.lineTo(px, hi)
      ctx.moveTo(left, lo)
      ctx.lineTo(right, lo)
      ctx.moveTo(left, hi)
      ctx.lineTo(right, hi)
      ctx.stroke()
    })
    ctx.restore()
  },
}

// legend inside the panel, top left, with the errorbar + point key
const legendPlugin = {
  id: "insideLegend",
  afterDraw(chart: any) {
    const { ctx } = chart
    const keys = [
      { label: groups[0], color: RED, shape: "circle", cy: 123 },
      { label: groups[1], color: TEAL, shape: "triangle", cy: 192 },
    ]
    ctx.save()
    ctx.fillStyle = "#ffffff"
    ctx.fillRect(234, 89, 68, 138)
    keys.forEach((k) => {
      const cx = 268
      ctx.strokeStyle = k.color
      ctx.fillStyle = k.color
      ctx.lineWidth = 10
      ctx.beginPath()
      ctx.moveTo(cx - 30, k.cy)
      ctx.lineTo(cx + 30, k.cy)
      ctx.stroke()
      ctx.beginPath()
      if (k.shape === "circle") {
        ctx.arc(cx, k.cy, 19, 0, Math.PI * 2)
      } else {
        const r = 31
        ctx.moveTo(cx, k.cy - r)
        ctx.lineTo(cx + r * Math.sin(Math.PI / 3), k.cy + r / 2)
        ctx.lineTo(cx - r * Math.sin(Math.PI / 3), k.cy + r / 2)
        ctx.closePath()
      }
      ctx.fill()
      ctx.fillStyle = "#000000"
      ctx.font = `50px ${FONT}`
      ctx.textBaseline = "middle"
      ctx.textAlign = "left"
      ctx.fillText(k.label, 337, k.cy + 2)
    })
    ctx.restore()
  },
}

function jitterPoints(sets: number[][][]) {
  const out: { x: number; y: number }[] = []
  sets.forEach((pts, c) => {
    pts.forEach(([dx, y]) => out.push({ x: c + 1 + dx, y }))
  })
  return out
}

export default function App() {
  const chartRef = useRef<HTMLCanvasElement>(null)
  const chartInstance = useRef<Chart | null>(null)

  useEffect(() => {
    document.body.style.margin = "0"
    if (!chartRef.current) return

    if (chartInstance.current) {
      chartInstance.current.destroy()
    }

    const ctx = chartRef.current.getContext("2d")
    if (!ctx) return

    chartInstance.current = new Chart(ctx, {
      type: "scatter",
      data: {
        datasets: [
          {
            label: groups[0] + " raw",
            data: jitterPoints(residentsJitter),
            pointStyle: "circle",
            pointRadius: 8.5,
            backgroundColor: "rgba(248,118,109,0.3)",
            borderWidth: 0,
            order: 3,
          },
          {
            label: groups[1] + " raw",
            data: jitterPoints(diasporaJitter),
            pointStyle: "triangle",
            pointRadius: 11.5,
            backgroundColor: "rgba(0,191,196,0.22)",
            borderWidth: 0,
            order: 2,
          },
          {
            label: groups[0],
            data: residentsMean.map((m, i) => ({ x: i + 1 - DODGE, y: m })),
            errLow: residentsLow,
            errHigh: residentsHigh,
            pointStyle: "circle",
            pointRadius: 19,
            backgroundColor: RED,
            borderWidth: 0,
            order: 1,
          } as any,
          {
            label: groups[1],
            data: diasporaMean.map((m, i) => ({ x: i + 1 + DODGE, y: m })),
            errLow: diasporaLow,
            errHigh: diasporaHigh,
            pointStyle: "triangle",
            pointRadius: 31,
            backgroundColor: TEAL,
            borderWidth: 0,
            order: 0,
          } as any,
        ],
      },
      options: {
        animation: false,
        responsive: false,
        devicePixelRatio: 1,
        events: [],
        layout: {
          autoPadding: false,
          padding: { top: 19, right: 31, bottom: 0, left: 0 },
        },
        plugins: {
          legend: { display: false },
          tooltip: { enabled: false },
          title: { display: false },
        },
        scales: {
          x: {
            type: "linear",
            min: 0.4,
            max: 4.6,
            afterBuildTicks: (scale: any) => {
              scale.ticks = categories.map((_, i) => ({ value: i + 1 }))
            },
            afterFit: (scale: any) => {
              scale.height = 86
              scale.paddingLeft = 0
              scale.paddingRight = 0
            },
            ticks: {
              autoSkip: false,
              maxRotation: 0,
              padding: 10,
              color: "#000000",
              font: { family: FONT, size: 48 },
              callback: (v: any) => categories[Number(v) - 1] ?? "",
            },
            grid: {
              drawOnChartArea: false,
              drawTicks: true,
              tickLength: 16,
              tickWidth: 6,
              tickColor: "#000000",
            },
            border: { display: true, color: "#000000", width: 6 },
          },
          y: {
            type: "linear",
            min: -1.649,
            max: 1.656,
            afterBuildTicks: (scale: any) => {
              scale.ticks = yTicks.map((v) => ({ value: v }))
            },
            afterFit: (scale: any) => {
              scale.width = 177
              scale.paddingTop = 0
              scale.paddingBottom = 0
            },
            ticks: {
              padding: 14,
              color: "#000000",
              font: { family: FONT, size: 48, lineHeight: 0.75 },
              callback: (v: any) => String(v),
            },
            grid: {
              drawOnChartArea: false,
              drawTicks: true,
              tickLength: 16,
              tickWidth: 6,
              tickColor: "#000000",
            },
            border: { display: true, color: "#000000", width: 6 },
            title: {
              display: true,
              text: "Standardized score (z)",
              color: "#000000",
              font: { family: FONT, size: 64 },
              padding: { top: 6, bottom: 0 },
            },
          },
        },
      },
      plugins: [errorBarPlugin, legendPlugin],
    })

    return () => {
      if (chartInstance.current) {
        chartInstance.current.destroy()
        chartInstance.current = null
      }
    }
  }, [])

  return (
    <div style={{ width: 2467, height: 1470, background: "#ffffff" }}>
      <canvas ref={chartRef} width={2467} height={1470} style={{ display: "block", width: 2467, height: 1470 }} />
    </div>
  )
}
